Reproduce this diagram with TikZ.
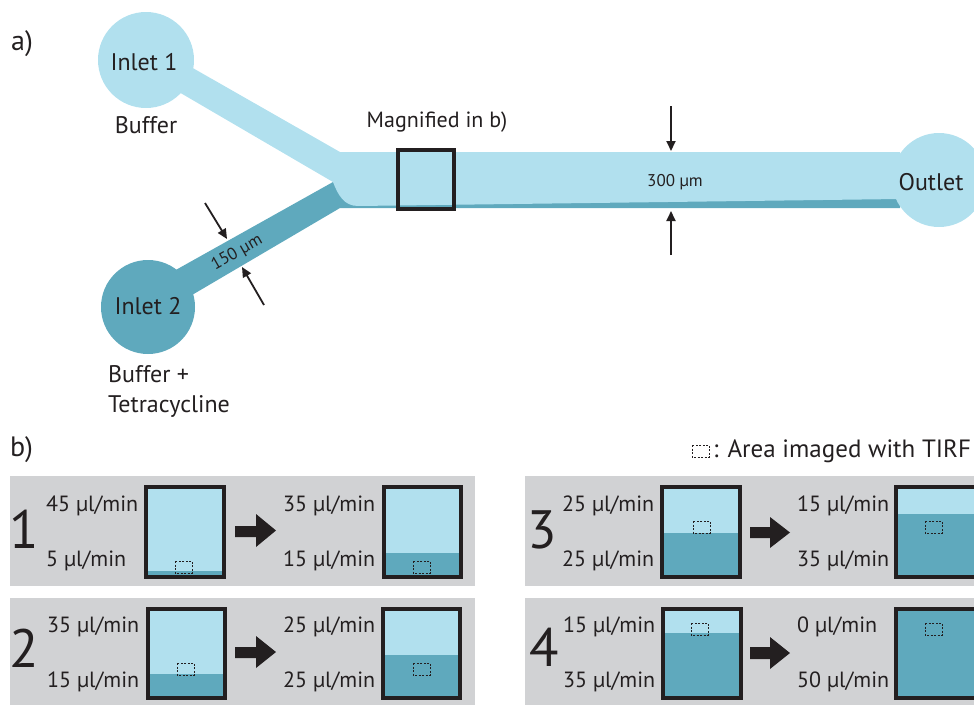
\documentclass[tikz,border=0pt]{standalone}
\usepackage{fontspec}
\setmainfont{PT Sans}
\usetikzlibrary{arrows.meta}
\definecolor{lightch}{HTML}{B1E0EE}
\definecolor{darkch}{HTML}{5FA9BD}
\definecolor{panelgray}{HTML}{D1D2D4}
\definecolor{ink}{HTML}{231F20}
\tikzset{
  fs/.style={font=\fontsize{#1}{#1}\selectfont},
  lbl/.style={inner sep=0, text=ink},
  flow/.style={lbl, fs=22, anchor=base west},
  bignum/.style={lbl, fs=54, anchor=base},
  boxline/.style={draw=ink, line width=4},
  tirf/.style={draw=ink, line width=0.9, dash pattern=on 2 off 1.5},
  dimarrow/.style={draw=ink, line width=1.8, -{Triangle[length=10,width=9]}},
  bigarrow/.style={fill=ink, draw=none},
  panel/.style={fill=panelgray, draw=none},
}
\begin{document}
\begin{tikzpicture}[x=1pt,y=-1pt]
\useasboundingbox (0,0) rectangle (974,704);
\clip (0,0) rectangle (974,704);
% ---------- part a ----------
\node[lbl, fs=28, anchor=base west] (la) at (11,50) {a)};
% dark (inlet 2) stream
\fill[darkch] (165,276) -- (333,182) -- (345,190) -- (900,190) -- (900,208) -- (340,208) -- (175,305) -- cycle;
% light (inlet 1) stream
\fill[lightch] (170,55) -- (340,152) -- (900,152) -- (900,199) -- (358,206)
   .. controls (344,206) and (338,195) .. (333,182) -- (160,81) -- cycle;
\node[circle, fill=lightch, minimum size=96, inner sep=0] (in1) at (146,60) {};
\node[circle, fill=darkch, minimum size=94, inner sep=0] (in2) at (148,307) {};
\node[circle, fill=lightch, minimum size=94, inner sep=0] (out) at (939,180) {};
\node[lbl, fs=24] (tin1) at (144,62) {Inlet 1};
\node[lbl, fs=24] (tin2) at (148,306) {Inlet 2};
\node[lbl, fs=24] (tout) at (931,182) {Outlet};
\node[lbl, fs=24, anchor=base] (buf) at (146,133) {Buffer};
\node[lbl, fs=24, anchor=base west, align=left] (buf2) at (108,412) {Buffer +\\[6pt]Tetracycline};
% magnified box
\draw[ink, line width=3.5] (398,150) rectangle (454,209);
\coordinate (magc) at (426,150);
\node[lbl, fs=22, anchor=base] (mag) at (437,127) {Magnified in b)};
% 300 um
\node[lbl, fs=17] (t300) at (675,182) {300 µm};
\coordinate (a300t) at (671,106);
\coordinate (a300th) at (671,151);
\coordinate (a300b) at (671,255);
\coordinate (a300bh) at (671,211);
\draw[dimarrow] (a300t) -- (a300th);
\draw[dimarrow] (a300b) -- (a300bh);
% 150 um
\node[lbl, fs=17, rotate=29.6] (t150) at (237,253) {150 µm};
\coordinate (a150a) at (205,203);
\coordinate (a150ah) at (227,239);
\coordinate (a150b) at (264,305);
\coordinate (a150bh) at (242,267);
\draw[dimarrow] (a150a) -- (a150ah);
\draw[dimarrow] (a150b) -- (a150bh);
% ---------- part b ----------
\node[lbl, fs=28, anchor=base west] (lb) at (10,456) {b)};
\draw[tirf] (692,445) rectangle (709,457);
\node[lbl, fs=25, anchor=base west] (leg) at (713,457) {: Area imaged with TIRF};
% panels
\fill[panel] (10,476) rectangle (475,586);
\fill[panel] (10,598) rectangle (475,710);
\fill[panel] (525,476) rectangle (980,586);
\fill[panel] (525,598) rectangle (980,710);
% ---- panel 1
\node[bignum] (n1) at (24,548) {1};
\node[flow] (f1a) at (46,511) {45 µl/min};
\node[flow] (f1b) at (46,566) {5 µl/min};
\fill[lightch] (146,487) rectangle (224,577);
\fill[darkch] (146,571) rectangle (224,577);
\draw[boxline] (146,487) rectangle (224,577);
\draw[tirf] (175,561) rectangle (192,573);
\fill[bigarrow] (235,526) -- (256,526) -- (256,514) -- (276,530.5) -- (256,547) -- (256,537) -- (235,537) -- cycle;
\node[flow] (f1c) at (283,511) {35 µl/min};
\node[flow] (f1d) at (283,566) {15 µl/min};
\fill[lightch] (384,487) rectangle (461,577);
\fill[darkch] (384,553) rectangle (461,577);
\draw[boxline] (384,487) rectangle (461,577);
\draw[tirf] (413,561) rectangle (430,573);
% ---- panel 2
\node[bignum] (n2) at (24,667) {2};
\node[flow] (f2a) at (47,632) {35 µl/min};
\node[flow] (f2b) at (47,687) {15 µl/min};
\fill[lightch] (148,609) rectangle (225,698);
\fill[darkch] (148,674) rectangle (225,698);
\draw[boxline] (148,609) rectangle (225,698);
\draw[tirf] (177,663) rectangle (194,675);
\fill[bigarrow] (235,647) -- (256,647) -- (256,636) -- (276,652) -- (256,668) -- (256,658) -- (235,658) -- cycle;
\node[flow] (f2c) at (283,632) {25 µl/min};
\node[flow] (f2d) at (283,687) {25 µl/min};
\fill[lightch] (383,609) rectangle (460,698);
\fill[darkch] (383,655) rectangle (460,698);
\draw[boxline] (383,609) rectangle (460,698);
\draw[tirf] (413,663) rectangle (430,675);
% ---- panel 3
\node[bignum] (n3) at (542,548) {3};
\node[flow] (f3a) at (562,511) {25 µl/min};
\node[flow] (f3b) at (562,566) {25 µl/min};
\fill[lightch] (662,487) rectangle (740,577);
\fill[darkch] (662,533) rectangle (740,577);
\draw[boxline] (662,487) rectangle (740,577);
\draw[tirf] (693,521) rectangle (710,533);
\fill[bigarrow] (750,527) -- (770,527) -- (770,517) -- (790,532.5) -- (770,548) -- (770,538) -- (750,538) -- cycle;
\node[flow] (f3c) at (797,511) {15 µl/min};
\node[flow] (f3d) at (797,566) {35 µl/min};
\fill[lightch] (896,487) rectangle (980,577);
\fill[darkch] (896,514) rectangle (980,577);
\draw[boxline] (896,487) rectangle (980,577);
\draw[tirf] (925,521) rectangle (942,533);
% ---- panel 4
\node[bignum] (n4) at (544,666) {4};
\node[flow] (f4a) at (563,632) {15 µl/min};
\node[flow] (f4b) at (563,687) {35 µl/min};
\fill[lightch] (663,609) rectangle (741,698);
\fill[darkch] (663,633) rectangle (741,698);
\draw[boxline] (663,609) rectangle (741,698);
\draw[tirf] (691,623) rectangle (708,635);
\fill[bigarrow] (750,647) -- (770,647) -- (770,637) -- (790,653) -- (770,669) -- (770,659) -- (750,659) -- cycle;
\node[flow] (f4c) at (797,632) {0 µl/min};
\node[flow] (f4d) at (797,687) {50 µl/min};
\fill[darkch] (896,609) rectangle (980,698);
\draw[boxline] (896,609) rectangle (980,698);
\draw[tirf] (925,623) rectangle (942,635);
\end{tikzpicture}
\end{document}
